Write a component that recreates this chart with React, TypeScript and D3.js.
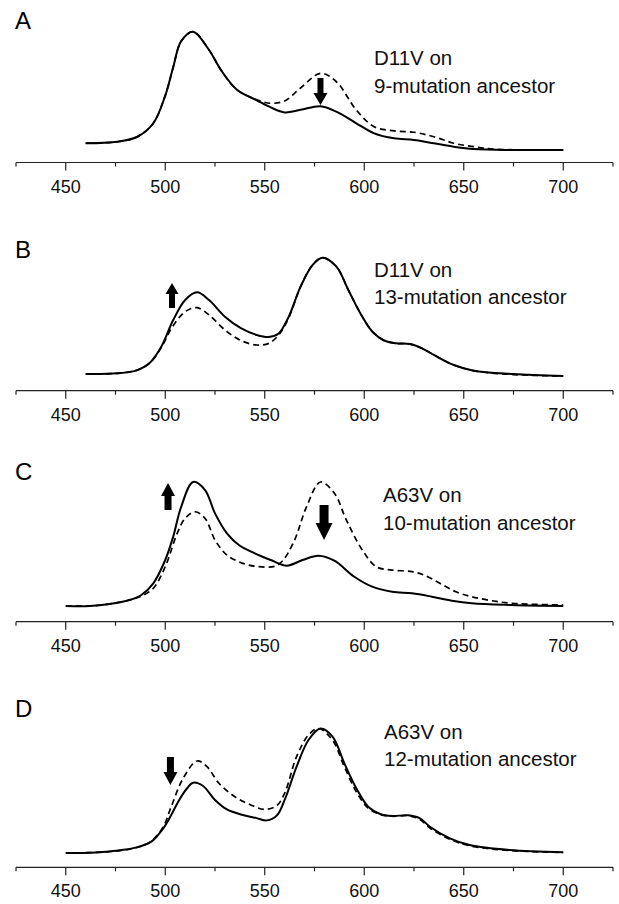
import React from "react";
import * as d3 from "d3";

// ---------- data (wavelength nm, relative absorbance) ----------
const panelLabels = ["A", "B", "C", "D"];
const noteLine1 = ["D11V on", "D11V on", "A63V on", "A63V on"];
const noteLine2 = ["9-mutation ancestor", "13-mutation ancestor", "10-mutation ancestor", "12-mutation ancestor"];
const xTicks = [425, 450, 475, 500, 525, 550, 575, 600, 625, 650, 675, 700, 725];

const aSolid: [number, number][] = [
  [460, 0.057], [476, 0.07], [486, 0.112], [494, 0.226], [500, 0.46], [504, 0.70], [508, 0.92],
  [514, 1.0], [522, 0.845], [528, 0.676], [536, 0.51], [546, 0.42], [553, 0.36], [560, 0.318],
  [568, 0.34], [578, 0.37], [586, 0.324], [596, 0.226], [605, 0.141], [615, 0.099], [625, 0.085],
  [635, 0.057], [645, 0.028], [655, 0.008], [675, 0.0], [700, 0.0],
];
const aDashed: [number, number][] = [
  [460, 0.057], [476, 0.07], [486, 0.112], [494, 0.226], [500, 0.46], [504, 0.70], [508, 0.92],
  [514, 1.0], [522, 0.845], [528, 0.676], [536, 0.51], [546, 0.425], [553, 0.395], [560, 0.415],
  [568, 0.524], [578, 0.648], [586, 0.577], [596, 0.338], [605, 0.197], [615, 0.161], [625, 0.15],
  [635, 0.112], [645, 0.057], [655, 0.028], [665, 0.008], [680, 0.0], [700, 0.0],
];
const bSolid: [number, number][] = [
  [460, 0.017], [476, 0.023], [486, 0.05], [492, 0.107], [498, 0.248], [504, 0.473], [510, 0.642],
  [516, 0.707], [522, 0.642], [530, 0.501], [538, 0.404], [546, 0.347], [552, 0.33], [557, 0.36],
  [562, 0.5], [568, 0.755], [574, 0.938], [579, 1.0], [586, 0.924], [592, 0.727], [598, 0.531],
  [604, 0.376], [610, 0.3], [616, 0.276], [623, 0.27], [629, 0.234], [635, 0.178], [645, 0.093],
  [655, 0.045], [675, 0.017], [700, 0.0],
];
const bDashed: [number, number][] = [
  [460, 0.017], [476, 0.023], [486, 0.05], [492, 0.107], [498, 0.24], [503, 0.40], [510, 0.544],
  [516, 0.578], [522, 0.516], [530, 0.389], [538, 0.3], [546, 0.262], [552, 0.276], [557, 0.347],
  [562, 0.49], [568, 0.755], [574, 0.938], [579, 1.0], [586, 0.924], [592, 0.727], [598, 0.531],
  [604, 0.376], [610, 0.3], [616, 0.276], [623, 0.27], [629, 0.234], [635, 0.178], [645, 0.093],
  [655, 0.045], [675, 0.012], [700, 0.0],
];
const cSolid: [number, number][] = [
  [450, 0.0], [462, 0.0], [472, 0.016], [482, 0.048], [488, 0.089], [494, 0.183], [500, 0.371],
  [504, 0.559], [508, 0.8], [514, 1.0], [520, 0.935], [525, 0.747], [531, 0.586], [537, 0.492],
  [545, 0.425], [553, 0.371], [561, 0.325], [569, 0.371], [577, 0.406], [585, 0.365], [595, 0.236],
  [604, 0.156], [614, 0.115], [624, 0.102], [634, 0.075], [644, 0.043], [654, 0.022], [674, 0.008],
  [700, 0.0],
];
const cDashed: [number, number][] = [
  [450, 0.0], [462, 0.0], [472, 0.016], [482, 0.048], [488, 0.08], [494, 0.143], [500, 0.317],
  [506, 0.586], [510, 0.707], [515, 0.76], [520, 0.707], [525, 0.532], [531, 0.411], [539, 0.344],
  [547, 0.317], [555, 0.32], [559, 0.365], [565, 0.532], [571, 0.8], [578, 1.0], [585, 0.909],
  [591, 0.694], [599, 0.452], [606, 0.317], [614, 0.29], [624, 0.277], [630, 0.25], [638, 0.183],
  [646, 0.115], [654, 0.075], [664, 0.043], [674, 0.022], [700, 0.008],
];
const dSolid: [number, number][] = [
  [450, 0.0], [465, 0.005], [475, 0.018], [485, 0.043], [493, 0.091], [499, 0.198], [503, 0.305],
  [507, 0.426], [511, 0.52], [514, 0.565], [519, 0.538], [525, 0.426], [531, 0.35], [539, 0.305],
  [546, 0.28], [551, 0.262], [556, 0.3], [560, 0.426], [566, 0.693], [572, 0.908], [578, 1.0],
  [584, 0.936], [590, 0.72], [596, 0.52], [602, 0.372], [608, 0.313], [614, 0.297], [622, 0.303],
  [628, 0.279], [633, 0.211], [643, 0.118], [653, 0.064], [673, 0.024], [700, 0.006],
];
const dDashed: [number, number][] = [
  [450, 0.0], [465, 0.005], [475, 0.015], [485, 0.04], [493, 0.095], [499, 0.21], [503, 0.372],
  [509, 0.6], [516, 0.739], [521, 0.693], [527, 0.56], [535, 0.452], [543, 0.386], [550, 0.35],
  [556, 0.38], [560, 0.48], [566, 0.774], [572, 0.948], [577, 1.0], [584, 0.908], [590, 0.693],
  [596, 0.492], [602, 0.36], [608, 0.31], [614, 0.295], [622, 0.3], [628, 0.27], [633, 0.2],
  [643, 0.11], [653, 0.058], [673, 0.02], [700, 0.004],
];
const solidSeries = [aSolid, bSolid, cSolid, dSolid];
const dashedSeries = [aDashed, bDashed, cDashed, dDashed];

// arrows: panel index, wavelength, from value, to value
const arrowPanel = [0, 1, 2, 2, 3];
const arrowWl = [578, 503.4, 501.4, 579.8, 502.6];
const arrowFrom = [0.609, 0.575, 0.774, 0.815, 0.771];
const arrowTo = [0.38, 0.786, 0.992, 0.532, 0.546];

// ---------- layout ----------
const W = 619;
const H = 904;
const layout = [
  { labelY: 29, axisY: 162.5, baseY: 150, h: 118.3, textX: 374, textY: [65, 93] },
  { labelY: 258, axisY: 390.7, baseY: 376, h: 118.3, textX: 374, textY: [277, 304] },
  { labelY: 480, axisY: 621.7, baseY: 606, h: 124, textX: 383, textY: [502, 529.5] },
  { labelY: 717, axisY: 867.3, baseY: 853, h: 124.5, textX: 384, textY: [738.5, 765.5] },
];
const arrowSize = [
  { shaft: 6, head: 14, headLen: 12 },
  { shaft: 6, head: 13, headLen: 11 },
  { shaft: 7, head: 14, headLen: 13 },
  { shaft: 9, head: 17, headLen: 17 },
  { shaft: 7, head: 14, headLen: 13 },
];

const FONT = "'Liberation Sans', Arial, Helvetica, sans-serif";

const x = d3.scaleLinear().domain([425, 725]).range([16, 613]);

function arrowPath(cx: number, y0: number, y1: number, s: { shaft: number; head: number; headLen: number }) {
  const dir = y1 > y0 ? 1 : -1;
  const hb = y1 - dir * s.headLen;
  const p = d3.path();
  p.moveTo(cx - s.shaft / 2, y0);
  p.lineTo(cx + s.shaft / 2, y0);
  p.lineTo(cx + s.shaft / 2, hb);
  p.lineTo(cx + s.head / 2, hb);
  p.lineTo(cx, y1);
  p.lineTo(cx - s.head / 2, hb);
  p.lineTo(cx - s.shaft / 2, hb);
  p.closePath();
  return p.toString();
}

function Panel({ i }: { i: number }) {
  const L = layout[i];
  const y = d3.scaleLinear().domain([0, 1]).range([L.baseY, L.baseY - L.h]);
  const line = d3
    .line<[number, number]>()
    .x((d) => x(d[0]))
    .y((d) => y(d[1]))
    .curve(d3.curveCatmullRom.alpha(0.5));
  return (
    <g>
      <text x={15} y={L.labelY} fontFamily={FONT} fontSize={24} fill="#000">
        {panelLabels[i]}
      </text>
      <path d={line(dashedSeries[i]) || ""} fill="none" stroke="#000" strokeWidth={1.7} strokeDasharray="6,4" />
      <path d={line(solidSeries[i]) || ""} fill="none" stroke="#000" strokeWidth={2} />
      <line x1={x(425)} x2={x(725)} y1={L.axisY} y2={L.axisY} stroke="#222" strokeWidth={1.2} />
      {xTicks.map((t) => (
        <g key={t}>
          <line
            x1={x(t)}
            x2={x(t)}
            y1={L.axisY}
            y2={L.axisY + (t % 50 === 0 ? 8 : 4)}
            stroke="#222"
            strokeWidth={1.2}
          />
          {t % 50 === 0 && t >= 450 && t <= 700 ? (
            <text x={x(t)} y={L.axisY + 30} textAnchor="middle" fontFamily={FONT} fontSize={18} fill="#111">
              {t}
            </text>
          ) : null}
        </g>
      ))}
      <text x={L.textX} y={L.textY[0]} fontFamily={FONT} fontSize={20.5} fill="#111">
        {noteLine1[i]}
      </text>
      <text x={L.textX} y={L.textY[1]} fontFamily={FONT} fontSize={20.5} fill="#111">
        {noteLine2[i]}
      </text>
      {arrowPanel.map((p, k) =>
        p === i ? (
          <path key={k} d={arrowPath(x(arrowWl[k]), y(arrowFrom[k]), y(arrowTo[k]), arrowSize[k])} fill="#000" />
        ) : null
      )}
    </g>
  );
}

export default function App() {
  return (
    <svg
      width={W}
      height={H}
      viewBox={`0 0 ${W} ${H}`}
      style={{ position: "absolute", left: 0, top: 0, background: "#fff", display: "block" }}
    >
      <rect x={0} y={0} width={W} height={H} fill="#fff" />
      {panelLabels.map((_, i) => (
        <Panel key={i} i={i} />
      ))}
    </svg>
  );
}
